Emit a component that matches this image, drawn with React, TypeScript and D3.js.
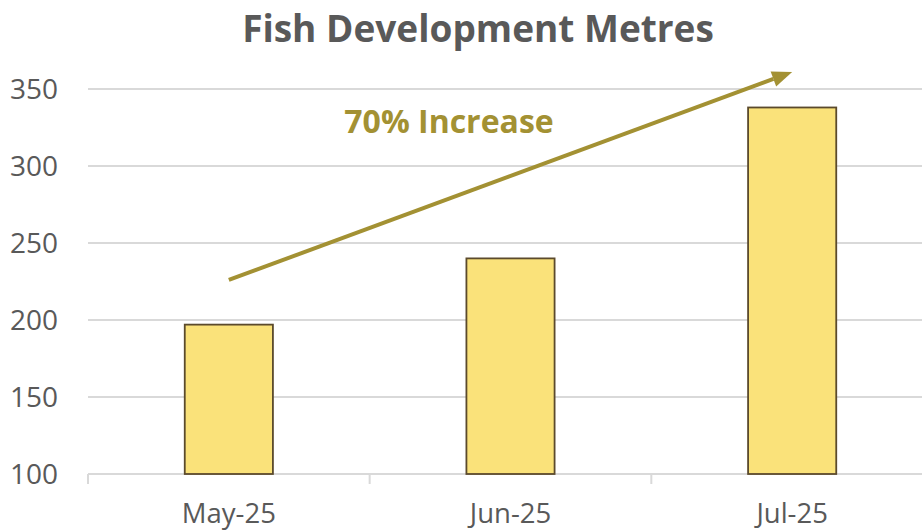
import React from "react";
import * as d3 from "d3";

const categories = ["May-25", "Jun-25", "Jul-25"];
const values = [197, 240, 338];
const yTicks = [100, 150, 200, 250, 300, 350];
const arrowFrom = { cat: "May-25", value: 226 };
const arrowTo = { cat: "Jul-25", value: 361 };
const annotation = "70% Increase";
const title = "Fish Development Metres";

const W = 922, H = 531;
const M = { left: 88, right: -11, top: 89, bottom: 57 };

export default function App() {
  const band = d3.scaleBand<string>().domain(categories).range([M.left, W - M.right]);
  const barW = band.bandwidth() * 0.313;
  const y = d3.scaleLinear().domain([100, 350]).range([H - M.bottom, M.top]);
  const font = "'Open Sans', sans-serif";
  const gold = "#A39133";
  const cx = (c: string) => (band(c) as number) + band.bandwidth() / 2;
  const x1 = cx(arrowFrom.cat), y1 = y(arrowFrom.value);
  const x2 = cx(arrowTo.cat), y2 = y(arrowTo.value);
  const ang = Math.atan2(y2 - y1, x2 - x1);
  const headLen = 20, headW = 8;
  const bx = x2 - headLen * Math.cos(ang), by = y2 - headLen * Math.sin(ang);
  const px = -Math.sin(ang), py = Math.cos(ang);
  const head = `M${x2},${y2} L${bx + px * headW},${by + py * headW} L${bx - px * headW},${by - py * headW} Z`;
  return (
    <svg width={W} height={H} style={{ position: "absolute", left: 0, top: 0, background: "#fff" }}>
      <text x={478} y={42} textAnchor="middle" fontFamily={font} fontWeight={700} fontSize={37} fill="#595959">{title}</text>
      {yTicks.map(t => (
        <g key={t}>
          <line x1={M.left} x2={W} y1={y(t)} y2={y(t)} stroke="#d9d9d9" strokeWidth={2} />
          <text x={58} y={y(t)} dy="0.35em" textAnchor="end" fontFamily={font} fontSize={28} fill="#595959">{t}</text>
        </g>
      ))}
      {categories.map(c => (
        <line key={c} x1={band(c)} x2={band(c)} y1={y(100)} y2={y(100) + 10} stroke="#d9d9d9" strokeWidth={2} />
      ))}
      {categories.map((c, i) => (
        <rect key={c} x={cx(c) - barW / 2} y={y(values[i])} width={barW} height={y(100) - y(values[i])} fill="#FAE27A" stroke="#5B4A2C" strokeWidth={1.8} />
      ))}
      {categories.map(c => (
        <text key={c} x={cx(c)} y={523} textAnchor="middle" fontFamily={font} fontSize={27.5} fill="#595959">{c}</text>
      ))}
      <line x1={x1} y1={y1} x2={bx} y2={by} stroke={gold} strokeWidth={4} />
      <path d={head} fill={gold} />
      <text x={449} y={133} textAnchor="middle" fontFamily={font} fontWeight={700} fontSize={32} fill={gold}>{annotation}</text>
    </svg>
  );
}
